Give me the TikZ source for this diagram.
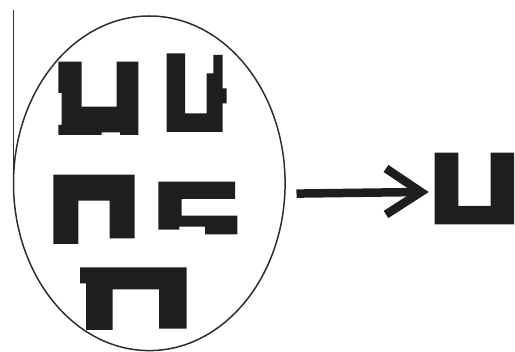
\documentclass[tikz,border=0pt]{standalone}
\usetikzlibrary{shapes.geometric}
\definecolor{ink}{HTML}{1E1E1E}
\definecolor{rim}{HTML}{2E2E2E}
\tikzset{
  blob/.style={fill=ink, draw=none},
  rimline/.style={draw=rim, line width=1.5pt},
  arrowline/.style={draw=ink, line width=8.5pt}
}
\begin{document}
\begin{tikzpicture}[x=1pt,y=-1pt]
\useasboundingbox (0,0) rectangle (515,352);
% thin vertical line at left
\draw[rim, line width=0.9pt] (13.4,10) -- (13.4,186);
% ellipse
\node[rimline, ellipse, minimum width=271.6pt, minimum height=334.6pt, inner sep=0pt] (ell) at (149.3,183.3) {};
% shape 1
\fill[blob] (58.3,61.7) -- (81.7,61.7) -- (81.7,106.7) -- (116.7,106.7) -- (116.7,61.7) -- (138.3,61.7)
  -- (138.3,135) -- (120,135) -- (120,132.3) -- (101.7,132.3) -- (101.7,135) -- (58.3,135)
  -- (58.3,125) -- (61.7,125) -- (61.7,93) -- (58.3,93) -- cycle;
% shape 2
\fill[blob] (166.7,53.3) -- (185,53.3) -- (185,113.3) -- (206.7,113.3) -- (206.7,73.3) -- (213.3,73.3)
  -- (213.3,55) -- (222.7,55) -- (222.7,88.3) -- (226.7,88.3) -- (226.7,103.3) -- (222.7,103.3)
  -- (222.7,132) -- (166.7,132) -- cycle;
% shape 3
\fill[blob] (53.3,174.7) -- (134.7,174.7) -- (134.7,238.3) -- (109.7,238.3) -- (109.7,200.7) -- (78.3,200.7)
  -- (78.3,244) -- (53.3,244) -- cycle;
% shape 4
\fill[blob] (158.3,181.7) -- (235,181.7) -- (235,198.8) -- (181.7,198.8) -- (181.7,215.7) -- (237.3,215.7)
  -- (237.3,234.3) -- (205,234.3) -- (205,226.7) -- (179.3,226.7) -- (179.3,229.6) -- (158.3,229.6) -- cycle;
% shape 5
\fill[blob] (80,267.3) -- (186.7,267.3) -- (186.7,328.7) -- (159,328.7) -- (159,289.3) -- (112.5,289.3)
  -- (112.5,330) -- (86,330) -- (86,283.3) -- (80,283.3) -- cycle;
% arrow
\coordinate (ashaft) at (296.5,193.6);
\coordinate (atip) at (421,192);
\draw[arrowline] (ashaft) -- (atip);
\draw[arrowline, line join=miter] (386,168.5) -- (atip) -- (386,214.5);
% result U
\fill[blob] (434.7,152.7) -- (458.3,152.7) -- (458.3,206) -- (490.7,206) -- (490.7,152.7) -- (514,152.7)
  -- (514,224.3) -- (434.7,224.3) -- cycle;
\end{tikzpicture}
\end{document}
